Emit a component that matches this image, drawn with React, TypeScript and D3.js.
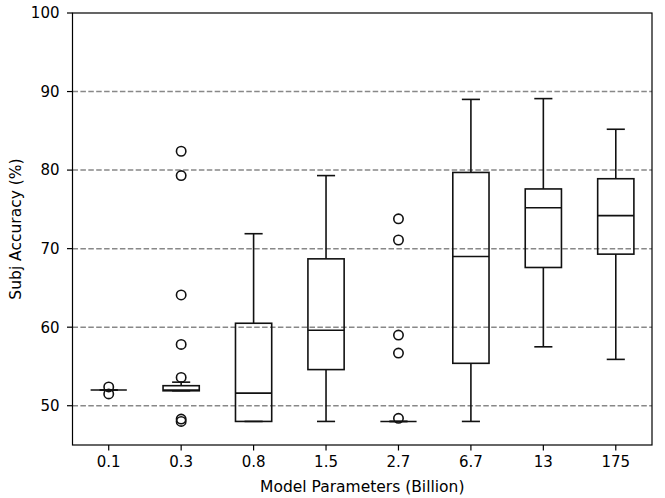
import React from 'react';
import * as d3 from 'd3';

// model sizes (billion parameters)
const categories = ['0.1', '0.3', '0.8', '1.5', '2.7', '6.7', '13', '175'];

// box statistics
const q1 = [52.0, 51.9, 48.0, 54.6, 48.0, 55.4, 67.6, 69.3];
const medians = [52.0, 52.0, 51.6, 59.6, 48.0, 69.0, 75.2, 74.2];
const q3 = [52.0, 52.55, 60.5, 68.7, 48.0, 79.7, 77.6, 78.9];
const whiskerLow = [52.0, 51.9, 48.0, 48.0, 48.0, 48.0, 57.5, 55.9];
const whiskerHigh = [52.0, 53.0, 71.9, 79.3, 48.0, 89.0, 89.1, 85.2];
const outliers: number[][] = [
  [52.4, 51.5],
  [82.4, 79.3, 64.1, 57.8, 53.6, 48.3, 48.0],
  [],
  [],
  [73.8, 71.1, 59.0, 56.7, 48.4],
  [],
  [],
  [],
];

const yTicks = [50, 60, 70, 80, 90, 100];
const gridTicks = [50, 60, 70, 80, 90];

const W = 665;
const H = 498;
const margin = { top: 13, right: 13, bottom: 53, left: 72.5 };
const FONT = 'DejaVu Sans, sans-serif';

export default function App() {
  const x = d3
    .scaleLinear()
    .domain([0.5, categories.length + 0.5])
    .range([margin.left, W - margin.right]);
  const y = d3
    .scaleLinear()
    .domain([45, 100])
    .range([H - margin.bottom, margin.top]);

  const step = x(2) - x(1);
  const boxW = step * 0.5;
  const capW = boxW * 0.5;
  const x0 = margin.left;
  const x1 = W - margin.right;
  const yBottom = H - margin.bottom;

  return (
    <svg
      width={W}
      height={H}
      style={{ position: 'absolute', left: 0, top: 0, background: '#fff' }}
      fontFamily={FONT}
    >
      <rect x={0} y={0} width={W} height={H} fill="#fff" />

      {/* dashed horizontal grid */}
      {gridTicks.map(t => (
        <line
          key={'g' + t}
          x1={x0}
          x2={x1}
          y1={y(t)}
          y2={y(t)}
          stroke="#888"
          strokeWidth={1.5}
          strokeDasharray="5.5,2.4"
        />
      ))}

      {/* boxes */}
      {categories.map((c, i) => {
        const cx = x(i + 1);
        return (
          <g key={c} stroke="#111" strokeWidth={1.6} fill="none">
            <line x1={cx} x2={cx} y1={y(q1[i])} y2={y(whiskerLow[i])} />
            <line x1={cx} x2={cx} y1={y(q3[i])} y2={y(whiskerHigh[i])} />
            <line x1={cx - capW / 2} x2={cx + capW / 2} y1={y(whiskerLow[i])} y2={y(whiskerLow[i])} />
            <line x1={cx - capW / 2} x2={cx + capW / 2} y1={y(whiskerHigh[i])} y2={y(whiskerHigh[i])} />
            <rect
              x={cx - boxW / 2}
              y={y(q3[i])}
              width={boxW}
              height={Math.max(0, y(q1[i]) - y(q3[i]))}
            />
            <line x1={cx - boxW / 2} x2={cx + boxW / 2} y1={y(medians[i])} y2={y(medians[i])} />
            {outliers[i].map((v, j) => (
              <circle key={j} cx={cx} cy={y(v)} r={4.7} strokeWidth={1.6} />
            ))}
          </g>
        );
      })}

      {/* frame */}
      <rect
        x={x0}
        y={margin.top}
        width={x1 - x0}
        height={yBottom - margin.top}
        fill="none"
        stroke="#000"
        strokeWidth={1.2}
      />

      {/* y axis ticks */}
      {yTicks.map(t => (
        <g key={'y' + t}>
          <line x1={x0 - 5.5} x2={x0} y1={y(t)} y2={y(t)} stroke="#000" strokeWidth={1.2} />
          <text x={x0 - 13} y={y(t)} dy="0.36em" textAnchor="end" fontSize={15} fill="#000">
            {t}
          </text>
        </g>
      ))}

      {/* x axis ticks */}
      {categories.map((c, i) => (
        <g key={'x' + c}>
          <line x1={x(i + 1)} x2={x(i + 1)} y1={yBottom} y2={yBottom + 5.5} stroke="#000" strokeWidth={1.2} />
          <text x={x(i + 1)} y={467} textAnchor="middle" fontSize={15} fill="#000">
            {c}
          </text>
        </g>
      ))}

      <text x={(x0 + x1) / 2} y={492} textAnchor="middle" fontSize={15.5} fill="#000">
        Model Parameters (Billion)
      </text>
      <text
        transform={`translate(21,${(margin.top + yBottom) / 2}) rotate(-90)`}
        textAnchor="middle"
        fontSize={15.5}
        fill="#000"
      >
        Subj Accuracy (%)
      </text>
    </svg>
  );
}
